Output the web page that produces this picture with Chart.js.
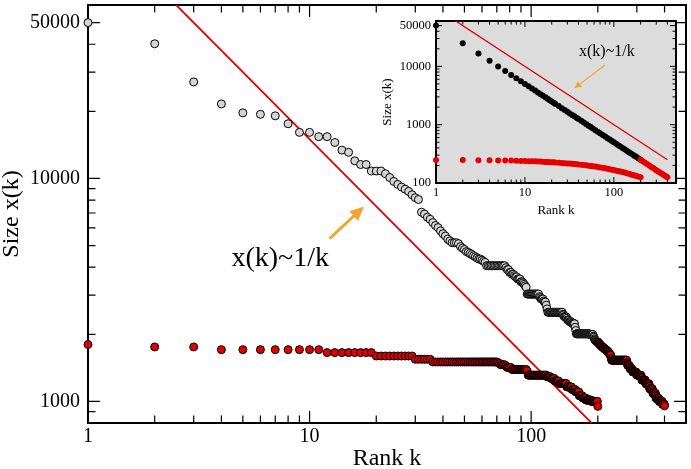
<!DOCTYPE html>
<html>
<head>
<meta charset="utf-8">
<script src="https://cdn.jsdelivr.net/npm/chart.js@4.4.1/dist/chart.umd.min.js"></script>
<style>
  html, body { margin: 0; padding: 0; background: #fff; }
  #wrap { position: relative; width: 691px; height: 469px; }
  #wrap canvas { position: absolute; left: 0; top: 0; }
</style>
</head>
<body>
<div id="wrap">
  <canvas id="main" width="691" height="469"></canvas>
  <canvas id="inset" width="691" height="469"></canvas>
</div>
<script>
// tick labels and tick marks
const xLabels = [1, 10, 100];
const xMinor = [2, 3, 4, 5, 6, 7, 8, 9, 20, 30, 40, 50, 60, 70, 80, 90, 200, 300, 400];
const mainYLabels = [1000, 10000, 50000];
const mainYMinor = [900, 2000, 3000, 4000, 5000, 6000, 7000, 8000, 9000, 20000, 30000, 40000];
const insetYLabels = [100, 1000, 10000, 50000];
const insetYMinor = [200, 300, 400, 500, 600, 700, 800, 900, 2000, 3000, 4000, 5000, 6000, 7000, 8000, 9000, 20000, 30000, 40000];

// main plot: upper curve, ranks 1..199 (grey)
const upperGray = [
  50000, 40200, 27100, 21600, 19700, 19400, 19100, 17600, 16100, 16100,
  15400, 15400, 14500, 13400, 13100, 12000, 11550, 11550, 10800, 10800,
  10800, 10500, 10100, 9700, 9400, 9150, 8950, 8750, 8450, 8200,
  8050, 7060, 6920, 6700, 6560, 6340, 6150, 6020, 5820, 5650,
  5520, 5350, 5250, 5150, 5150, 5150, 5100, 4950, 4870, 4800,
  4700, 4660, 4600, 4550, 4500, 4450, 4400, 4350, 4350, 4300,
  4250, 4200, 4060, 4060, 4060, 4060, 4060, 4060, 4060, 4060,
  4060, 4060, 4060, 4060, 4060, 4060, 3980, 3900, 3900, 3790,
  3790, 3720, 3720, 3665, 3620, 3620, 3540, 3540, 3540, 3440,
  3440, 3400, 3350, 3300, 3250, 3030, 3030, 3030, 3030, 3030,
  3030, 3030, 3030, 3030, 3030, 3030, 3030, 3030, 2950, 2920,
  2880, 2880, 2880, 2820, 2790, 2790, 2700, 2600, 2510, 2510,
  2510, 2510, 2510, 2510, 2510, 2510, 2510, 2510, 2510, 2510,
  2510, 2510, 2510, 2510, 2510, 2510, 2510, 2510, 2460, 2440,
  2400, 2400, 2400, 2390, 2360, 2320, 2320, 2310, 2280, 2280,
  2280, 2260, 2240, 2240, 2240, 2235, 2230, 2150, 2080, 2010,
  2010, 2010, 2010, 2010, 2010, 2010, 2010, 2010, 2010, 2010,
  2010, 2010, 2010, 2010, 2010, 2010, 2010, 2010, 2010, 2010,
  2010, 2010, 2010, 1995, 1995, 1995, 1995, 1995, 1995, 1995,
  1960, 1940, 1910, 1890, 1880, 1870, 1860, 1855, 1850
];
// main plot: upper curve, ranks 200..400 (red)
const upperRedStart = 200;
const upperRed = [
  1840, 1840, 1820, 1810, 1810, 1790, 1780, 1780, 1765, 1760,
  1750, 1750, 1740, 1730, 1730, 1715, 1710, 1710, 1700, 1695,
  1690, 1680, 1670, 1660, 1660, 1640, 1630, 1620, 1615, 1610,
  1560, 1530, 1530, 1530, 1530, 1530, 1530, 1530, 1530, 1530,
  1530, 1530, 1530, 1530, 1530, 1530, 1530, 1530, 1530, 1530,
  1530, 1530, 1530, 1530, 1530, 1530, 1530, 1530, 1530, 1530,
  1530, 1530, 1530, 1530, 1530, 1530, 1530, 1530, 1530, 1530,
  1530, 1490, 1470, 1450, 1450, 1450, 1450, 1450, 1440, 1420,
  1400, 1400, 1400, 1400, 1400, 1395, 1380, 1370, 1355, 1355,
  1355, 1355, 1355, 1355, 1355, 1355, 1355, 1355, 1340, 1330,
  1320, 1310, 1310, 1310, 1310, 1310, 1310, 1310, 1310, 1310,
  1310, 1310, 1310, 1310, 1290, 1280, 1270, 1245, 1245, 1245,
  1245, 1245, 1245, 1245, 1245, 1245, 1245, 1245, 1230, 1215,
  1200, 1200, 1200, 1200, 1200, 1200, 1200, 1200, 1200, 1200,
  1200, 1180, 1165, 1140, 1140, 1140, 1140, 1140, 1140, 1140,
  1140, 1140, 1140, 1120, 1100, 1085, 1085, 1085, 1085, 1085,
  1085, 1085, 1085, 1085, 1085, 1065, 1050, 1030, 1030, 1030,
  1030, 1030, 1030, 1030, 1030, 1030, 1030, 1030, 1015, 1000,
  1000, 1000, 1000, 1000, 1000, 1000, 1000, 1000, 1000, 1000,
  1000, 985, 970, 970, 970, 970, 970, 970, 970, 970,
  955
];
// main plot: lower curve, ranks 1..200 (red)
const lowerRed = [
  1800, 1755, 1755, 1707, 1707, 1707, 1707, 1707, 1707, 1707,
  1707, 1655, 1655, 1655, 1655, 1655, 1655, 1655, 1655, 1598,
  1598, 1598, 1598, 1598, 1598, 1598, 1598, 1598, 1598, 1545,
  1545, 1545, 1545, 1545, 1545, 1503, 1503, 1503, 1503, 1503,
  1503, 1503, 1503, 1503, 1503, 1503, 1503, 1503, 1503, 1503,
  1503, 1503, 1503, 1503, 1503, 1503, 1503, 1503, 1503, 1503,
  1503, 1503, 1503, 1503, 1503, 1503, 1503, 1503, 1503, 1503,
  1490, 1478, 1460, 1460, 1460, 1460, 1442, 1420, 1420, 1420,
  1420, 1390, 1390, 1390, 1390, 1390, 1390, 1390, 1390, 1390,
  1390, 1390, 1390, 1390, 1390, 1370, 1311, 1311, 1311, 1311,
  1311, 1311, 1311, 1311, 1311, 1311, 1311, 1311, 1311, 1311,
  1311, 1311, 1311, 1311, 1311, 1311, 1311, 1290, 1290, 1290,
  1290, 1290, 1268, 1268, 1268, 1268, 1268, 1235, 1235, 1235,
  1235, 1235, 1235, 1202, 1202, 1202, 1202, 1202, 1202, 1202,
  1202, 1202, 1202, 1202, 1161, 1161, 1161, 1161, 1161, 1161,
  1161, 1161, 1130, 1130, 1130, 1130, 1130, 1130, 1103, 1103,
  1103, 1103, 1103, 1103, 1060, 1060, 1060, 1060, 1060, 1060,
  1035, 1035, 1035, 1035, 1035, 1035, 1014, 1014, 1014, 1014,
  1014, 1014, 1014, 1014, 1014, 1014, 1000, 1000, 1000, 1000,
  1000, 1000, 1000, 1000, 1000, 1000, 1000, 1000, 1000, 950
];
// 1/k guide line (two ends) and its label / arrow, in data units
const mainGuideK = [1, 500];
const mainGuideV = [150000, 300];
const mainNote = { text: 'x(k)~1/k', at: [4.44, 4045], from: [12.3, 5370], to: [17.6, 7480] };

// inset
const insetRanks = [1, 2, 3, 4, 5, 6, 7, 8, 9, 10, 11, 12, 13, 14, 15, 16, 17, 18, 19, 20, 21, 22,
  24, 26, 28, 30, 32, 34, 36, 38, 40, 43, 46, 49, 52, 55, 58, 62, 66, 70,
  75, 80, 85, 90, 95, 100, 106, 112, 118, 125, 132, 140, 148, 156, 164, 172, 180, 190, 200];
const insetBlack = [50000, 25000, 16667, 12500, 10000, 8333, 7143, 6250, 5556, 5000, 4545, 4167, 3846, 3571, 3333, 3125, 2941, 2778, 2632, 2500, 2381, 2273,
  2083, 1923, 1786, 1667, 1563, 1471, 1389, 1316, 1250, 1163, 1087, 1020, 962, 909, 862, 806, 758, 714,
  667, 625, 588, 556, 526, 500, 472, 446, 424, 400, 379, 357, 338, 321, 305, 291, 278, 263, 250];
const insetRedLow = [249, 248, 246, 245, 244, 243, 242, 240, 239, 238, 237, 236, 235, 234, 233, 231, 230, 229, 228, 227, 226, 225,
  223, 221, 219, 217, 216, 214, 212, 210, 208, 206, 203, 201, 198, 196, 194, 191, 188, 185,
  182, 179, 175, 172, 169, 167, 163, 160, 157, 154, 151, 147, 144, 140, 137, 134, 132, 128, 125];
const insetTailRanks = [200, 212, 224, 236, 250, 264, 278, 292, 306, 320, 336, 352, 368, 384, 400];
const insetRedHigh = [250, 236, 223, 212, 200, 189, 180, 171, 163, 156, 149, 142, 136, 130, 125];
const insetGuideK = [1, 400];
const insetGuideV = [100000, 250];
const insetNote = { text: 'x(k)~1/k', at: [40.6, 17640], from: [79.6, 10560], to: [35.9, 4205] };

const RED = '#dd0000';
const GRAY = '#d4d4d4';
const ORANGE = '#f2a531';

Chart.defaults.font.family = "'Liberation Serif', 'Times New Roman', serif";
Chart.defaults.color = '#000';

const byRank = (vals, first) => vals.map((v, i) => ({ x: first + i, y: v }));
const pairs = (ks, vals) => ks.map((k, i) => ({ x: k, y: vals[i] }));

// inward ticks on all four sides plus the box
function frameTicks(cfg) {
  return {
    id: 'frameTicks',
    beforeDraw(chart) {
      if (!cfg.fill) return;
      const { ctx, chartArea: a } = chart;
      ctx.save();
      ctx.fillStyle = cfg.fill;
      ctx.fillRect(a.left, a.top, a.width, a.height);
      ctx.restore();
    },
    beforeDatasetsDraw(chart) {
      const { ctx, chartArea: a, scales: { x, y } } = chart;
      ctx.save();
      ctx.strokeStyle = '#000';
      ctx.lineWidth = cfg.tickWidth;
      ctx.beginPath();
      const xTick = len => v => {
        const p = x.getPixelForValue(v);
        ctx.moveTo(p, a.bottom); ctx.lineTo(p, a.bottom - len);
        ctx.moveTo(p, a.top); ctx.lineTo(p, a.top + len);
      };
      const yTick = len => v => {
        const p = y.getPixelForValue(v);
        ctx.moveTo(a.left, p); ctx.lineTo(a.left + len, p);
        ctx.moveTo(a.right, p); ctx.lineTo(a.right - len, p);
      };
      cfg.xMajor.forEach(xTick(cfg.major));
      cfg.xMinor.forEach(xTick(cfg.minor));
      cfg.yMajor.forEach(yTick(cfg.major));
      cfg.yMinor.forEach(yTick(cfg.minor));
      ctx.stroke();
      ctx.lineWidth = cfg.frameWidth;
      ctx.strokeRect(a.left, a.top, a.width, a.height);
      ctx.restore();
    }
  };
}

// text label with an arrow, placed in data coordinates
function note(n, style) {
  return {
    id: 'note',
    afterDatasetsDraw(chart) {
      const { ctx, scales: { x, y } } = chart;
      const px = p => [x.getPixelForValue(p[0]), y.getPixelForValue(p[1])];
      ctx.save();
      const [tx, ty] = px(n.at);
      ctx.font = style.font;
      ctx.fillStyle = '#000';
      ctx.textBaseline = style.baseline;
      ctx.fillText(n.text, tx, ty);
      const [x0, y0] = px(n.from);
      const [x1, y1] = px(n.to);
      const c = Math.cos(Math.atan2(y1 - y0, x1 - x0));
      const s = Math.sin(Math.atan2(y1 - y0, x1 - x0));
      ctx.strokeStyle = ORANGE;
      ctx.fillStyle = ORANGE;
      ctx.lineWidth = style.width;
      ctx.beginPath();
      ctx.moveTo(x0, y0);
      ctx.lineTo(x1 - style.head * 0.7 * c, y1 - style.head * 0.7 * s);
      ctx.stroke();
      ctx.beginPath();
      ctx.moveTo(x1, y1);
      ctx.lineTo(x1 - style.head * c + style.half * s, y1 - style.head * s - style.half * c);
      ctx.lineTo(x1 - style.head * c - style.half * s, y1 - style.head * s + style.half * c);
      ctx.closePath();
      ctx.fill();
      ctx.restore();
    }
  };
}

function logAxis(min, max, labels, size, pad, title, titleSize, fit) {
  return {
    type: 'logarithmic', min, max,
    grid: { display: false, drawTicks: false },
    border: { display: false },
    afterBuildTicks: s => { s.ticks = labels.map(v => ({ value: v })); },
    afterFit: fit,
    ticks: { autoSkip: false, maxRotation: 0, padding: pad, font: { size }, color: '#000', callback: v => String(v) },
    title: { display: true, text: title, color: '#000', font: { size: titleSize, lineHeight: 1 }, padding: { top: 0, bottom: -2 } }
  };
}

const pointSet = (data, fill, r, bw) => ({
  data, backgroundColor: fill, borderColor: '#000', borderWidth: bw,
  pointRadius: r, pointHoverRadius: r, clip: false
});
const guideSet = (ks, vs, w) => ({
  data: pairs(ks, vs), showLine: true, borderColor: RED, borderWidth: w,
  pointRadius: 0, clip: 0
});

new Chart(document.getElementById('main'), {
  type: 'scatter',
  data: {
    datasets: [
      pointSet(byRank(upperRed, upperRedStart), RED, 4, 1),
      pointSet(byRank(upperGray, 1), GRAY, 4, 1),
      pointSet(byRank(lowerRed, 1), RED, 4, 1),
      guideSet(mainGuideK, mainGuideV, 1.8)
    ]
  },
  options: {
    responsive: false, animation: false, events: [],
    layout: { padding: { left: 0, top: 2, right: 3, bottom: 0 } },
    plugins: { legend: { display: false }, tooltip: { enabled: false } },
    scales: {
      x: logAxis(1, 500, xLabels, 20, 2, 'Rank k', 24, s => { s.height = 46; s.paddingLeft = 0; s.paddingRight = 0; }),
      y: logAxis(800, 60000, mainYLabels, 20, 8, 'Size x(k)', 24, s => { s.width = 88; s.paddingTop = 0; s.paddingBottom = 0; })
    }
  },
  plugins: [
    frameTicks({ xMajor: xLabels, xMinor, yMajor: mainYLabels, yMinor: mainYMinor, major: 12, minor: 7.5, tickWidth: 1.2, frameWidth: 2 }),
    note(mainNote, { font: "28px 'Liberation Serif', serif", baseline: 'alphabetic', width: 3, head: 14, half: 6.5 })
  ]
});

new Chart(document.getElementById('inset'), {
  type: 'scatter',
  data: {
    datasets: [
      pointSet(pairs(insetTailRanks, insetRedHigh), '#e80000', 3, 0),
      pointSet(pairs(insetRanks, insetRedLow), '#e80000', 3, 0),
      pointSet(pairs(insetRanks, insetBlack), '#000', 3, 0),
      guideSet(insetGuideK, insetGuideV, 1.3)
    ]
  },
  options: {
    responsive: false, animation: false, events: [],
    layout: { padding: { left: 381, top: 21, right: 15, bottom: 254 } },
    plugins: { legend: { display: false }, tooltip: { enabled: false } },
    scales: {
      x: logAxis(1, 500, xLabels, 12.5, 2, 'Rank k', 13, s => { s.height = 32; s.paddingLeft = 0; s.paddingRight = 0; }),
      y: logAxis(100, 60000, insetYLabels, 12.5, 5, 'Size x(k)', 13, s => { s.width = 55; s.paddingTop = 0; s.paddingBottom = 0; })
    }
  },
  plugins: [
    frameTicks({ xMajor: xLabels, xMinor, yMajor: insetYLabels, yMinor: insetYMinor, major: 6, minor: 3.5, tickWidth: 1, frameWidth: 2, fill: '#dcdcdc' }),
    note(insetNote, { font: "16px 'Liberation Serif', serif", baseline: 'middle', width: 1.2, head: 7, half: 3.5 })
  ]
});
</script>
</body>
</html>
